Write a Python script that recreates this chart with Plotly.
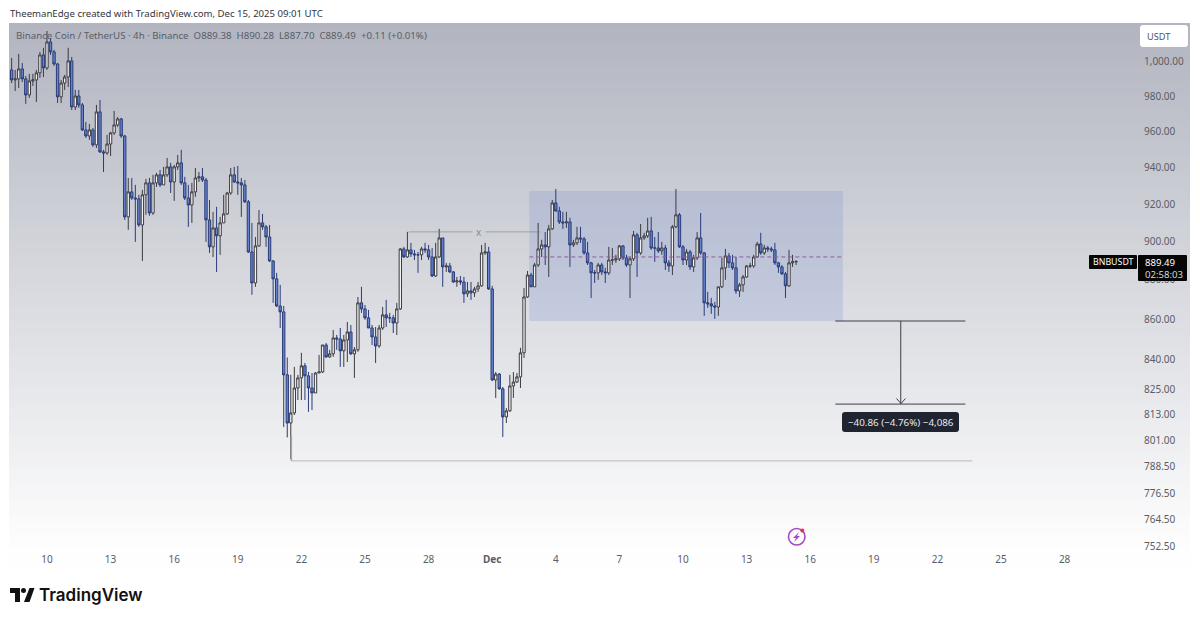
"""BNB/USDT 4h chart with the range box and the measured drop"""

import math

import pandas as pd
from plotly.graph_objects import Candlestick, Figure

# 4h candles, first one on Nov 8 08:00 UTC, last one on Dec 15 08:00 UTC
first_candle = "2025-11-08 08:00"
n_candles = 223
first_open = 995.3

closes = [
    989.5, 990.1, 995.9, 990.1, 980.8, 988.9, 989.5, 993.6, 1004.1, 996.5,
    1011.8, 1005.9, 998.8, 979.7, 987.7, 991.2, 1000.6, 973.9, 980.2, 975.1,
    960.9, 957.5, 960.9, 952.5, 971.1, 948.6, 948.0, 953.0, 959.2, 963.7,
    967.1, 957.5, 913.1, 926.6, 923.3, 922.8, 908.8, 925.0, 931.5, 915.2,
    931.5, 935.9, 930.4, 935.9, 940.3, 932.0, 940.3, 942.5, 931.5, 923.3,
    919.5, 926.6, 934.2, 934.8, 933.1, 911.5, 897.2, 907.2, 903.0, 909.9,
    914.7, 926.0, 935.9, 932.0, 931.5, 930.4, 921.2, 894.5, 878.4, 897.7,
    909.9, 907.8, 902.4, 889.8, 880.5, 866.6, 863.6, 832.3, 809.1, 813.9,
    825.9, 830.8, 836.7, 831.8, 825.9, 823.5, 833.2, 833.7, 847.0, 841.1,
    842.6, 850.5, 850.0, 844.1, 849.5, 853.5, 842.6, 844.6, 868.2, 865.1,
    860.6, 855.5, 851.0, 846.5, 855.5, 862.1, 860.6, 860.6, 858.0, 865.1,
    896.1, 891.9, 895.6, 893.5, 893.0, 893.0, 896.1, 895.6, 891.9, 882.0,
    891.9, 901.9, 886.7, 887.2, 884.1, 878.9, 879.5, 878.9, 872.8, 874.3,
    873.3, 875.3, 876.9, 894.0, 894.5, 875.3, 829.8, 832.7, 825.5, 812.0,
    814.9, 826.9, 828.8, 831.3, 843.1, 871.2, 882.5, 876.4, 887.7, 896.1,
    898.2, 897.2, 906.7, 920.6, 916.3, 910.4, 909.9, 910.4, 898.2, 899.3,
    901.9, 901.4, 894.0, 888.8, 883.6, 883.6, 887.7, 884.1, 883.6, 890.3,
    890.3, 890.9, 897.7, 891.4, 887.7, 890.9, 903.5, 894.0, 901.9, 903.0,
    905.6, 896.6, 896.6, 895.1, 896.6, 888.8, 887.2, 907.8, 914.2, 897.2,
    890.3, 894.5, 886.7, 891.4, 901.9, 894.0, 868.2, 867.7, 866.6, 866.1,
    876.4, 886.2, 892.4, 888.8, 886.2, 874.3, 877.4, 881.5, 887.2, 887.2,
    891.9, 898.7, 894.0, 896.6, 896.1, 895.6, 888.8, 886.7, 883.1, 876.9,
    888.8, 889.38, 889.49,
]

highs = [
    1002.3, 995.3, 1004.7, 999.4, 991.8, 993.0, 993.0, 995.3, 1005.9, 1008.3,
    1018.3, 1014.2, 1007.1, 999.4, 989.5, 992.4, 1008.3, 1002.9, 983.7, 983.7,
    976.2, 965.4, 964.3, 962.0, 975.1, 977.9, 949.7, 958.1, 959.8, 971.7,
    968.2, 967.7, 958.1, 934.2, 934.2, 930.4, 925.0, 927.7, 933.7, 934.2,
    935.9, 937.0, 938.6, 940.3, 945.2, 942.5, 941.4, 946.9, 949.7, 934.8,
    930.4, 931.5, 939.7, 937.5, 939.7, 934.2, 922.2, 915.8, 918.5, 913.1,
    925.0, 926.6, 939.7, 940.3, 940.8, 934.2, 933.1, 922.2, 909.9, 902.4,
    916.8, 914.7, 908.8, 908.8, 890.3, 883.6, 877.4, 866.6, 840.8, 832.3,
    836.2, 832.3, 843.1, 838.1, 833.7, 833.2, 833.7, 842.1, 847.0, 848.0,
    844.6, 854.5, 852.0, 855.5, 852.0, 858.5, 857.0, 846.0, 871.2, 876.4,
    867.1, 864.6, 857.0, 856.0, 857.0, 866.1, 869.7, 863.1, 862.1, 868.2,
    896.6, 897.2, 905.1, 899.3, 895.6, 894.5, 897.2, 899.3, 898.2, 896.6,
    899.3, 906.7, 901.9, 888.8, 888.8, 884.6, 881.5, 882.0, 881.5, 878.9,
    878.9, 876.4, 878.9, 898.2, 899.3, 897.2, 876.9, 833.7, 833.2, 826.4,
    816.3, 832.3, 833.7, 833.2, 845.6, 875.8, 884.6, 883.6, 888.8, 909.9,
    900.9, 905.0, 908.8, 922.2, 928.2, 918.5, 915.8, 915.8, 912.6, 900.9,
    907.8, 907.8, 902.4, 899.8, 889.3, 885.1, 888.8, 888.8, 886.2, 897.2,
    896.6, 893.0, 898.2, 898.2, 893.0, 891.9, 905.6, 904.6, 909.3, 904.6,
    912.6, 913.1, 902.4, 905.0, 899.8, 898.2, 890.3, 908.8, 928.2, 915.2,
    898.2, 896.1, 895.6, 893.0, 905.0, 915.2, 894.5, 873.8, 870.7, 868.7,
    876.4, 891.4, 896.1, 894.0, 893.0, 891.9, 878.4, 882.5, 887.7, 888.8,
    893.0, 899.8, 904.6, 898.2, 897.7, 897.2, 899.3, 889.3, 887.7, 884.1,
    895.6, 893.0, 890.28,
]

lows = [
    987.7, 983.1, 984.8, 988.3, 975.7, 979.1, 986.0, 976.8, 990.7, 991.2,
    995.3, 1004.1, 997.7, 976.2, 976.2, 983.7, 985.4, 972.2, 972.2, 973.4,
    960.3, 956.4, 955.3, 951.4, 950.8, 948.0, 937.5, 946.9, 946.3, 958.1,
    962.6, 956.4, 911.5, 906.2, 922.2, 899.8, 907.8, 889.8, 914.2, 913.7,
    914.2, 929.3, 929.3, 930.4, 934.8, 926.0, 921.7, 938.6, 930.4, 922.2,
    907.8, 909.9, 923.9, 932.0, 932.0, 899.8, 894.0, 891.9, 884.1, 893.0,
    909.9, 914.2, 925.0, 931.5, 925.0, 913.1, 920.6, 894.0, 872.3, 876.4,
    897.2, 906.2, 897.2, 889.3, 868.2, 866.1, 855.5, 807.2, 802.3, 792.2,
    812.9, 820.1, 820.1, 820.1, 814.4, 815.3, 823.5, 833.2, 833.2, 840.6,
    840.6, 841.1, 844.6, 836.2, 836.2, 838.6, 842.1, 830.8, 843.6, 863.1,
    859.6, 855.5, 847.0, 838.1, 845.6, 854.5, 856.0, 858.0, 853.0, 852.0,
    864.6, 891.4, 891.4, 891.9, 890.3, 883.6, 890.3, 894.0, 890.3, 881.5,
    881.5, 891.4, 876.4, 884.1, 883.6, 878.4, 876.4, 877.4, 868.2, 871.2,
    869.7, 871.2, 873.8, 876.4, 893.0, 874.8, 829.3, 821.1, 825.0, 802.5,
    809.1, 814.4, 821.1, 828.3, 825.9, 840.6, 870.7, 876.4, 876.4, 886.7,
    891.9, 887.7, 881.5, 906.2, 915.8, 909.3, 906.7, 907.2, 886.7, 897.2,
    898.2, 899.3, 893.0, 887.7, 870.7, 878.4, 880.0, 882.5, 878.4, 882.5,
    887.7, 888.8, 889.8, 890.3, 886.7, 870.7, 889.8, 881.5, 893.0, 900.9,
    901.9, 895.6, 889.3, 894.0, 893.0, 885.1, 884.1, 882.5, 907.2, 896.6,
    887.7, 887.7, 885.1, 884.1, 890.3, 893.0, 861.6, 865.6, 862.6, 860.1,
    861.6, 875.8, 880.0, 886.2, 885.1, 872.8, 871.2, 873.8, 881.0, 886.2,
    886.2, 891.4, 893.0, 893.0, 894.5, 894.5, 887.7, 883.6, 882.5, 870.7,
    876.4, 886.7, 887.70,
]

# axes
price_ticks = [1000, 980, 960, 940, 920, 900, 880, 860, 840, 825, 813, 801, 788.5, 776.5, 764.5, 752.5]
date_ticks = ["2025-11-10", "2025-11-13", "2025-11-16", "2025-11-19", "2025-11-22", "2025-11-25",
              "2025-11-28", "2025-12-01", "2025-12-04", "2025-12-07", "2025-12-10", "2025-12-13",
              "2025-12-16", "2025-12-19", "2025-12-22", "2025-12-25", "2025-12-28"]
date_labels = ["10", "13", "16", "19", "22", "25", "28", "<b>Dec</b>", "4", "7", "10", "13", "16", "19", "22", "25", "28"]
x_limits = ["2025-11-08 05:00", "2025-12-31 13:20"]
price_limits = [751.9, 1023.1]

# drawings
range_box_dates = ["2025-12-02 18:00", "2025-12-17 13:00"]
range_box_prices = [859.0, 927.1]
last_price_level = 891.9
swing_high_price = 905.1
swing_high_dates = ["2025-11-27 01:20", "2025-11-30 01:45", "2025-11-30 16:30", "2025-12-03 06:40"]
swing_high_mark = "2025-11-30 08:40"
swing_low_price = 791.3
swing_low_dates = ["2025-11-21 12:40", "2025-12-23 15:30"]
measure_dates = ["2025-12-17 04:20", "2025-12-23 07:40"]
measure_mid = "2025-12-20 06:30"
measure_prices = [859.0, 818.14]

GREY = "#5a5d66"
FONT = "Noto Sans"


# the page has an 8 px body margin, so the figure is 1184x604 and its plot area starts at page (9, 23)
def px(x):
    """page pixel -> paper x"""
    return (x - 9) / 1131


def py(y):
    """page pixel -> paper y"""
    return (548 - y) / 525


def round_box(x0, y0, x1, y1, r, color):
    """rounded rectangle, in page pixels"""
    path = (f"M {px(x0 + r)} {py(y0)} L {px(x1 - r)} {py(y0)} Q {px(x1)} {py(y0)} {px(x1)} {py(y0 + r)} "
            f"L {px(x1)} {py(y1 - r)} Q {px(x1)} {py(y1)} {px(x1 - r)} {py(y1)} "
            f"L {px(x0 + r)} {py(y1)} Q {px(x0)} {py(y1)} {px(x0)} {py(y1 - r)} "
            f"L {px(x0)} {py(y0 + r)} Q {px(x0)} {py(y0)} {px(x0 + r)} {py(y0)} Z")
    return dict(type="path", path=path, xref="paper", yref="paper",
                fillcolor=color, line_width=0, layer="above")


def polygon(points, color):
    """filled polygon, in page pixels"""
    path = "M " + " L ".join(f"{px(x)} {py(y)}" for x, y in points) + " Z"
    return dict(type="path", path=path, xref="paper", yref="paper",
                fillcolor=color, line_width=0, layer="above")


def label(x, y, text, color=GREY, size=10, anchor="left", family=FONT, weight=None):
    """text placed in page pixels"""
    return dict(x=px(x), y=py(y), xref="paper", yref="paper", text=text, showarrow=False,
                xanchor=anchor, yanchor="middle",
                font=dict(family=family, size=size, color=color, weight=weight))


def background_bands():
    """vertical grey to white fade behind the pane (plotly has no gradient fill)"""
    bands = []
    top, bottom, step = 23, 570, 5
    for y in range(top, bottom, step):
        t = min((y - top) / 525, 1)
        r = round(178 + (254 - 178) * t)
        g = round(181 + (254 - 181) * t)
        b = round(192 + (254 - 192) * t)
        bands.append(dict(type="rect", xref="paper", yref="paper", layer="below",
                          x0=0, x1=px(1190), y0=py(min(y + step + 1, bottom)), y1=py(y),
                          fillcolor=f"rgb({r},{g},{b})", line_width=0))
    return bands


def chart_shapes():
    """the boxes and lines drawn on the chart"""
    shapes = background_bands()
    shapes.append(dict(type="rect", x0=range_box_dates[0], x1=range_box_dates[1],
                       y0=range_box_prices[0], y1=range_box_prices[1], layer="below",
                       fillcolor="rgba(105,130,205,0.2)", line_width=0))
    shapes.append(dict(type="line", x0=range_box_dates[0], x1=range_box_dates[1],
                       y0=last_price_level, y1=last_price_level,
                       line=dict(color="#8c5f9e", width=1, dash="4px,3px")))
    grey_line = dict(color="rgba(120,120,120,0.45)", width=1.2)
    shapes.append(dict(type="line", x0=swing_high_dates[0], x1=swing_high_dates[1],
                       y0=swing_high_price, y1=swing_high_price, line=grey_line))
    shapes.append(dict(type="line", x0=swing_high_dates[2], x1=swing_high_dates[3],
                       y0=swing_high_price, y1=swing_high_price, line=grey_line))
    shapes.append(dict(type="line", x0=swing_low_dates[0], x1=swing_low_dates[1],
                       y0=swing_low_price, y1=swing_low_price, line=dict(color="#c4c4c8", width=1.2)))
    shapes.append(dict(type="line", x0=swing_low_dates[0], x1=swing_low_dates[0],
                       y0=swing_low_price, y1=803, line=dict(color="#a8a8ac", width=1.5)))
    for level in measure_prices:
        shapes.append(dict(type="line", x0=measure_dates[0], x1=measure_dates[1], y0=level, y1=level,
                           line=dict(color="#3c3f48", width=1)))
    shapes.append(dict(type="line", x0=measure_mid, x1=measure_mid,
                       y0=measure_prices[0], y1=measure_prices[1], line=dict(color="#3c3f48", width=1)))
    # arrow head of the measure line
    shapes.append(dict(type="path", xref="paper", yref="paper", layer="above",
                       path=f"M {px(896.5)} {py(398.5)} L {px(901)} {py(403.5)} L {px(905.5)} {py(398.5)}",
                       line=dict(color="#3c3f48", width=1), fillcolor="rgba(0,0,0,0)"))
    # measure pill, USDT button, price tags
    shapes.append(round_box(842, 412, 959, 432, 3, "#1f2430"))
    shapes.append(round_box(1140, 25, 1188, 47, 3, "#ffffff"))
    shapes.append(round_box(1089, 255, 1137, 269, 1, "#050505"))
    shapes.append(round_box(1138, 255, 1187, 281, 1, "#050505"))
    # lightning badge
    shapes.append(dict(type="circle", xref="paper", yref="paper", layer="above",
                       x0=px(788.5), x1=px(805), y0=py(545), y1=py(528.5),
                       line=dict(color="#a24bc4", width=1.6), fillcolor="rgba(0,0,0,0)"))
    shapes.append(polygon([(799, 532), (793, 538), (796, 538), (794, 542), (800, 536), (797, 536)], "#a24bc4"))
    shapes.append(dict(type="circle", xref="paper", yref="paper", layer="above",
                       x0=px(800.3), x1=px(804.3), y0=py(532.5), y1=py(528.5),
                       fillcolor="#e8344a", line_width=0))
    # TradingView mark
    shapes.append(polygon([(10, 588), (20, 588), (20, 602), (15, 602), (15, 593), (10, 593)], "#111111"))
    shapes.append(polygon([(24, 602), (29.5, 588), (34.5, 588), (29.5, 602)], "#111111"))
    shapes.append(dict(type="circle", xref="paper", yref="paper", layer="above",
                       x0=px(21), x1=px(26), y0=py(593), y1=py(588), fillcolor="#111111", line_width=0))
    return shapes


def chart_labels():
    """all the text that is not on an axis"""
    return [
        label(8, 13, "TheemanEdge created with TradingView.com, Dec 15, 2025 09:01 UTC", color="#33353c", size=9.6),
        label(14, 35, "Binance Coin / TetherUS · 4h · Binance&nbsp;&nbsp;O889.38&nbsp;&nbsp;H890.28&nbsp;&nbsp;"
                      "L887.70&nbsp;&nbsp;C889.49&nbsp;&nbsp;+0.11 (+0.01%)", color=GREY, size=9.7),
        label(1145, 36, "USDT", color="#50535c", size=9.2),
        label(1091, 262, "BNBUSDT", color="#ffffff", size=8.8),
        label(1143, 262, "889.49", color="#ffffff", size=9.6),
        label(1143, 274, "02:58:03", color="#d8d8d8", size=9.6),
        label(900.5, 422, "−40.86 (−4.76%) −4,086", color="#e8e8ee", size=9.8, anchor="center"),
        label(37, 595, "TradingView", color="#111111", size=17, family="Inter", weight=600),
        dict(x=swing_high_mark, y=math.log10(swing_high_price), text="x", showarrow=False,
             font=dict(family=FONT, size=10, color="#8c8c8c")),
    ]


def price_label(tick):
    """1000 -> 1,000.00"""
    return f"{tick:,.2f}"


dates = pd.date_range(first_candle, periods=n_candles, freq="4h")
opens = [first_open] + closes[:-1]

candles = Candlestick(
    x=dates, open=opens, high=highs, low=lows, close=closes,
    increasing=dict(line=dict(color="#3c3c42", width=1), fillcolor="#f2f2f2"),
    decreasing=dict(line=dict(color="#2a3b78", width=1), fillcolor="#6484cc"),
    whiskerwidth=0,
)

fig = Figure(candles)
fig.update_layout(
    width=1184, height=604, autosize=False,
    margin=dict(l=1, r=52, t=15, b=64),
    paper_bgcolor="#ffffff", plot_bgcolor="rgba(0,0,0,0)",
    showlegend=False,
    boxgap=0.05,
    font=dict(family=FONT, size=10, color=GREY),
    shapes=chart_shapes(),
    annotations=chart_labels(),
)
fig.update_xaxes(
    range=x_limits, rangeslider_visible=False, showgrid=False, zeroline=False, showline=False,
    tickmode="array", tickvals=date_ticks, ticktext=date_labels, ticks="", ticklabelstandoff=4,
)
fig.update_yaxes(
    type="log", side="right", range=[math.log10(price_limits[0]), math.log10(price_limits[1])],
    showgrid=False, zeroline=False, showline=False,
    tickmode="array", tickvals=price_ticks, ticktext=[price_label(t) for t in price_ticks],
    ticks="", ticklabelstandoff=3,
)

fig.write_html("out.html")
